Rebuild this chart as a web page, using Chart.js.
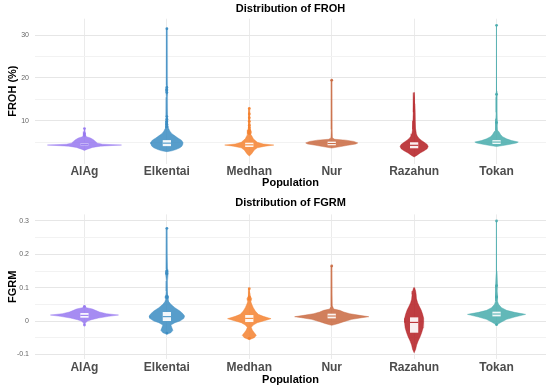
<!DOCTYPE html>
<html>
<head>
<meta charset="utf-8">
<script src="https://cdn.jsdelivr.net/npm/chart.js@4.4.1/dist/chart.umd.min.js"></script>
<style>
    html, body { margin: 0; padding: 0; background: #fff; }
    .panel { position: relative; width: 550px; height: 194px; }
</style>
</head>
<body>
<div class="panel"><canvas id="frohChart"></canvas></div>
<div class="panel"><canvas id="fgrmChart"></canvas></div>

<script>
/**
 * Data
 */
const populations = ['AlAg', 'Elkentai', 'Medhan', 'Nur', 'Razahun', 'Tokan'];

// FROH (%) - violin outline: levels (bottom -> top) and relative density at each level
const frohLevels = [
    [3.1, 3.4, 3.8, 4.1, 4.35, 4.55, 4.8, 5.2, 5.6, 6.0, 6.3, 6.7, 7.0, 7.5, 8.3],
    [2.8, 3.0, 3.3, 3.7, 4.1, 4.6, 5.0, 5.5, 6.0, 6.5, 7.0, 7.6, 8.3, 9.0, 10.0, 11.0, 13.0, 15.5, 16.8, 17.5, 18.3, 20.0, 25.0, 31.6],
    [1.8, 2.2, 2.7, 3.2, 3.7, 4.1, 4.35, 4.6, 5.0, 5.4, 5.8, 6.3, 6.8, 7.4, 7.9, 8.5, 9.3, 10.0, 11.0, 12.0, 12.95],
    [3.65, 4.0, 4.3, 4.6, 4.85, 5.2, 5.5, 5.7, 6.0, 8.0, 12.0, 19.5],
    [1.56, 2.0, 2.5, 3.0, 3.5, 4.0, 4.5, 5.0, 5.5, 6.0, 6.5, 7.0, 8.0, 9.0, 10.0, 12.0, 14.0, 15.5, 16.6],
    [4.0, 4.3, 4.6, 4.85, 5.05, 5.4, 5.8, 6.3, 6.8, 7.4, 7.8, 8.8, 9.6, 10.5, 12.0, 15.5, 16.2, 17.0, 20.0, 32.3]
];
const frohDensity = [
    [0, 3, 8, 16, 37, 18, 13, 11, 9, 6, 2, 1.0, 1.2, 0.6, 0.3],
    [0, 5, 9, 13, 15, 16, 16, 14.5, 11, 8, 5, 3, 1.6, 1.1, 1.1, 0.8, 0.6, 0.5, 1.0, 1.1, 0.6, 0.45, 0.4, 0.3],
    [0, 2, 3.5, 5, 8, 16, 24.5, 14, 8, 6, 4, 3, 1.6, 2.2, 1.4, 1.0, 0.8, 0.7, 0.7, 0.6, 0.3],
    [0, 9, 16, 24, 26, 22, 14, 3, 0.8, 0.5, 0.4, 0.3],
    [0, 3, 6, 10, 13, 14, 13, 10, 7, 4.5, 3, 2.2, 1.6, 1.4, 1.2, 1.0, 0.8, 0.6, 0.2],
    [0, 8, 15, 20, 21.7, 15, 10, 6, 4, 2.5, 1.1, 0.8, 1.1, 0.7, 0.5, 0.5, 0.7, 0.45, 0.4, 0.3]
];
const frohQ1 = [4.3, 4.1, 3.9, 4.3, 3.6, 4.6];
const frohMedian = [4.5, 4.8, 4.4, 4.7, 4.3, 5.05];
const frohQ3 = [4.7, 5.5, 4.9, 5.15, 5.0, 5.5];
const frohOutliers = [
    [6.6, 7.0, 8.2],
    [8.6, 9.2, 9.8, 10.4, 11.0, 16.6, 17.2, 17.8, 31.5],
    [7.0, 7.4, 7.8, 8.4, 9.0, 9.9, 10.7, 11.6, 12.9],
    [19.5],
    [],
    [9.6, 16.2, 32.3]
];
const frohTicks = [10, 20, 30];
const frohTickLabels = ['10', '20', '30'];
const frohMinorTicks = [5, 15, 25];

// FGRM
const fgrmLevels = [
    [-0.012, -0.006, 0.0, 0.004, 0.009, 0.014, 0.018, 0.022, 0.027, 0.032, 0.036, 0.04, 0.045],
    [-0.04, -0.035, -0.028, -0.02, -0.012, -0.005, 0.0, 0.008, 0.015, 0.022, 0.03, 0.04, 0.05, 0.058, 0.065, 0.072, 0.078, 0.09, 0.12, 0.14, 0.148, 0.156, 0.2, 0.278],
    [-0.056, -0.05, -0.043, -0.035, -0.027, -0.019, -0.012, -0.005, 0.0, 0.007, 0.014, 0.02, 0.03, 0.04, 0.05, 0.058, 0.067, 0.075, 0.085, 0.097],
    [-0.013, -0.008, -0.002, 0.005, 0.01, 0.013, 0.017, 0.022, 0.027, 0.032, 0.036, 0.045, 0.08, 0.165],
    [-0.095, -0.085, -0.072, -0.06, -0.047, -0.035, -0.02, -0.005, 0.008, 0.02, 0.033, 0.045, 0.055, 0.065, 0.08, 0.09, 0.1],
    [-0.013, -0.008, -0.003, 0.005, 0.012, 0.02, 0.026, 0.032, 0.04, 0.05, 0.06, 0.072, 0.09, 0.106, 0.15, 0.3]
];
const fgrmDensity = [
    [0.4, 1.0, 3, 7, 14, 24, 34, 22, 15, 11, 8, 2, 0.4],
    [0, 4, 6, 5, 4, 8, 13, 17, 17.7, 16, 13, 8, 4, 2, 1.2, 2.0, 1.0, 0.7, 0.5, 1.2, 1.3, 0.8, 0.45, 0.3],
    [0, 5, 7, 5, 3, 2, 4, 8, 14, 21.7, 14, 9, 6, 4, 2.5, 1.6, 2.4, 1.0, 0.7, 0.3],
    [0, 6, 12, 20, 30, 37, 28, 18, 12, 8, 2, 0.7, 0.45, 0.3],
    [0, 1.5, 2.5, 4, 6, 7.5, 9, 9.5, 9.5, 8.5, 7, 5, 3.5, 2.5, 2, 1.5, 0.5],
    [0.4, 2, 5, 10, 18, 29, 18, 10, 5, 2, 0.9, 1.4, 0.6, 1.0, 0.45, 0.3]
];
const fgrmQ1 = [0.01, 0.0, -0.003, 0.008, -0.035, 0.014];
const fgrmMedian = [0.017, 0.013, 0.008, 0.015, -0.004, 0.021];
const fgrmQ3 = [0.024, 0.027, 0.018, 0.022, 0.011, 0.028];
const fgrmOutliers = [
    [0.044, -0.012],
    [0.07, 0.074, 0.142, 0.15, 0.278, -0.036],
    [0.065, 0.072, 0.097, -0.052],
    [0.165],
    [],
    [-0.011, 0.072, 0.106, 0.3]
];
const fgrmTicks = [-0.1, 0, 0.1, 0.2, 0.3];
const fgrmTickLabels = ['-0.1', '0', '0.1', '0.2', '0.3'];
const fgrmMinorTicks = [-0.05, 0.05, 0.15, 0.25];

/**
 * Styling
 */
const popColors = ['#9678f0', '#3a8cc2', '#f4812f', '#c9683f', '#b41c21', '#47abac'];
const FONT = "'Liberation Sans', Arial, sans-serif";
const VIOLIN_HALF = 0.45;   // widest violin half-width in category units
const BOX_HALF = 0.05;      // boxplot half-width in category units

Chart.defaults.font.family = FONT;

function hexToRgba(hex, a) {
    const n = parseInt(hex.slice(1), 16);
    return `rgba(${(n >> 16) & 255}, ${(n >> 8) & 255}, ${n & 255}, ${a})`;
}

/**
 * Fill each violin outline, then draw its box + median on top
 */
const violinPlugin = {
    id: 'violinPlugin',
    beforeDatasetDraw(chart, args) {
        const ds = chart.data.datasets[args.index];
        if (!ds.violinFill) return;
        const { ctx, chartArea } = chart;
        const pts = args.meta.data;
        ctx.save();
        ctx.beginPath();
        ctx.rect(chartArea.left, chartArea.top, chartArea.right - chartArea.left, chartArea.bottom - chartArea.top);
        ctx.clip();
        ctx.beginPath();
        pts.forEach((p, k) => k ? ctx.lineTo(p.x, p.y) : ctx.moveTo(p.x, p.y));
        ctx.closePath();
        ctx.fillStyle = ds.violinFill;
        ctx.fill();
        ctx.restore();
    },
    afterDatasetDraw(chart, args) {
        const ds = chart.data.datasets[args.index];
        if (!ds.box) return;
        const { ctx } = chart;
        const xs = chart.scales.x, ys = chart.scales.y;
        const left = xs.getPixelForValue(ds.box.x - BOX_HALF);
        const right = xs.getPixelForValue(ds.box.x + BOX_HALF);
        const top = ys.getPixelForValue(ds.box.q3);
        const bottom = ys.getPixelForValue(ds.box.q1);
        const mid = ys.getPixelForValue(ds.box.median);
        ctx.save();
        ctx.fillStyle = 'rgba(255, 255, 255, 0.92)';
        ctx.fillRect(left, top, right - left, bottom - top);
        ctx.strokeStyle = ds.medianColor;
        ctx.lineWidth = 1;
        ctx.beginPath();
        ctx.moveTo(left, mid);
        ctx.lineTo(right, mid);
        ctx.stroke();
        ctx.restore();
    }
};

function buildDatasets(levels, density, q1, median, q3, outliers) {
    const maxDens = Math.max(...density.map(d => Math.max(...d)));
    const k = VIOLIN_HALF / maxDens;
    const datasets = [];

    populations.forEach((pop, i) => {
        const x = i + 1;
        const pts = [];
        levels[i].forEach((lv, j) => pts.push({ x: x + density[i][j] * k, y: lv }));
        for (let j = levels[i].length - 1; j >= 0; j--) {
            pts.push({ x: x - density[i][j] * k, y: levels[i][j] });
        }
        pts.push({ x: pts[0].x, y: pts[0].y });

        datasets.push({
            label: pop,
            data: pts,
            showLine: true,
            borderColor: hexToRgba(popColors[i], 0.85),
            borderWidth: 0.5,
            pointRadius: 0,
            pointHoverRadius: 0,
            violinFill: hexToRgba(popColors[i], 0.85),
            medianColor: popColors[i],
            box: { x: x, q1: q1[i], median: median[i], q3: q3[i] },
            order: 2
        });

        datasets.push({
            label: pop + ' outliers',
            data: outliers[i].map(v => ({ x: x, y: v })),
            pointRadius: 1.4,
            pointBorderWidth: 0,
            pointBackgroundColor: hexToRgba(popColors[i], 0.9),
            order: 1
        });
    });
    return datasets;
}

function makeChart(id, cfg) {
    const all = cfg.levels.flat().concat(cfg.outliers.flat());
    const lo = Math.min(...all), hi = Math.max(...all);
    const pad = (hi - lo) * 0.05;
    const gridValues = cfg.minor.concat(cfg.ticks).sort((a, b) => a - b);

    return new Chart(document.getElementById(id), {
        type: 'scatter',
        data: {
            datasets: buildDatasets(cfg.levels, cfg.density, cfg.q1, cfg.median, cfg.q3, cfg.outliers)
        },
        options: {
            responsive: true,
            maintainAspectRatio: false,
            animation: false,
            layout: { padding: { top: 0, right: 3, bottom: 0, left: 0 } },
            plugins: {
                legend: { display: false },
                tooltip: { enabled: false },
                title: {
                    display: true,
                    text: cfg.title,
                    fullSize: false,
                    color: '#000',
                    font: { size: 11, weight: 'bold' },
                    padding: cfg.titlePadding
                }
            },
            scales: {
                x: {
                    type: 'linear',
                    min: 0.4,
                    max: populations.length + 0.6,
                    afterBuildTicks: s => { s.ticks = populations.map((p, i) => ({ value: i + 1 })); },
                    afterFit: s => { s.height = cfg.xHeight; },
                    ticks: {
                        callback: v => populations[v - 1],
                        autoSkip: false,
                        maxRotation: 0,
                        color: '#4d4d4d',
                        font: { size: 12, weight: 'bold' },
                        padding: cfg.xTickPad
                    },
                    grid: { color: '#ebebeb', lineWidth: 1, drawTicks: false },
                    border: { display: false },
                    title: {
                        display: true,
                        text: 'Population',
                        color: '#000',
                        font: { size: 11, weight: 'bold' },
                        padding: { top: 0, bottom: cfg.xTitlePad }
                    }
                },
                y: {
                    min: lo - pad,
                    max: hi + pad,
                    afterBuildTicks: s => { s.ticks = gridValues.map(v => ({ value: v })); },
                    afterFit: s => { s.width = 35; },
                    ticks: {
                        autoSkip: false,
                        callback: v => {
                            const idx = cfg.ticks.indexOf(v);
                            return idx >= 0 ? cfg.tickLabels[idx] : '';
                        },
                        color: '#666',
                        font: { size: 7 },
                        padding: 6
                    },
                    grid: {
                        color: c => (c.tick && cfg.ticks.includes(c.tick.value)) ? '#e6e6e6' : '#f2f2f2',
                        lineWidth: 1,
                        drawTicks: false
                    },
                    border: { display: false },
                    title: {
                        display: true,
                        text: cfg.yTitle,
                        color: '#000',
                        font: { size: 11, weight: 'bold' },
                        padding: { top: 6, bottom: 0 }
                    }
                }
            }
        },
        plugins: [violinPlugin]
    });
}

makeChart('frohChart', {
    title: 'Distribution of FROH',
    yTitle: 'FROH (%)',
    levels: frohLevels, density: frohDensity,
    q1: frohQ1, median: frohMedian, q3: frohQ3, outliers: frohOutliers,
    ticks: frohTicks, tickLabels: frohTickLabels, minor: frohMinorTicks,
    titlePadding: { top: 2, bottom: 3.5 },
    xHeight: 30.4, xTickPad: 1, xTitlePad: 4
});

makeChart('fgrmChart', {
    title: 'Distribution of FGRM',
    yTitle: 'FGRM',
    levels: fgrmLevels, density: fgrmDensity,
    q1: fgrmQ1, median: fgrmMedian, q3: fgrmQ3, outliers: fgrmOutliers,
    ticks: fgrmTicks, tickLabels: fgrmTickLabels, minor: fgrmMinorTicks,
    titlePadding: { top: 2.7, bottom: 4.5 },
    xHeight: 28.7, xTickPad: 1.2, xTitlePad: 1.4
});
</script>
</body>
</html>
